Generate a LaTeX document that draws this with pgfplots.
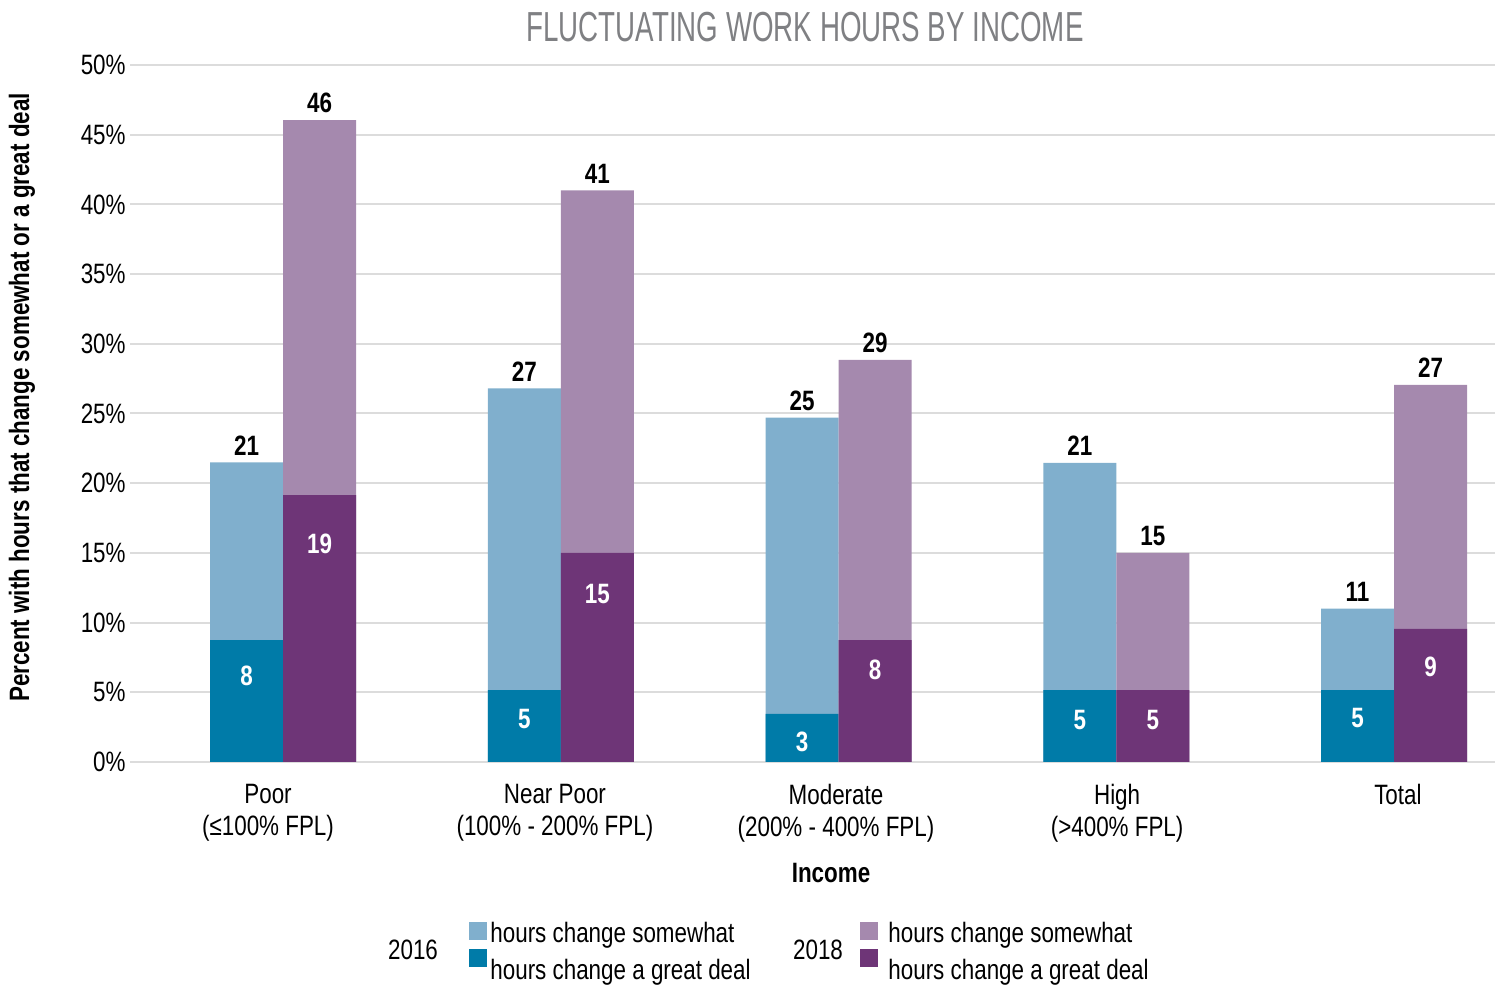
\documentclass[border=0pt]{standalone}
\usepackage{fontspec}
\setmainfont{Liberation Sans}[FakeStretch=0.8]
\newfontfamily\titlefont{Liberation Sans}[FakeStretch=0.66]
\usepackage{pgfplots}
\pgfplotsset{compat=1.18}
\definecolor{lblue}{HTML}{80AFCD}
\definecolor{dblue}{HTML}{007BA8}
\definecolor{lpurp}{HTML}{A589AE}
\definecolor{dpurp}{HTML}{6E3577}
\definecolor{gridgray}{HTML}{DCDCDC}
\definecolor{titlegray}{HTML}{7F8083}
\begin{document}
\begin{tikzpicture}
\useasboundingbox (0,0) rectangle (751pt,492pt);
\begin{axis}[
  at={(65pt,111pt)}, anchor=south west,
  scale only axis, width=682.5pt, height=348.5pt,
  xmin=-0.5509, xmax=4.3636, ymin=0, ymax=50,
  axis line style={draw=none},
  major tick length=0pt,
  ytick={0,5,...,50},
  yticklabel={\pgfmathprintnumber{\tick}\%},
  yticklabel style={font=\fontsize{14}{16}\selectfont, inner sep=0pt, xshift=-2pt},
  /pgf/number format/assume math mode=true,
  ymajorgrids, grid style={gridgray, line width=1pt},
  xtick={-0.054,0.979,1.991,3.003,4.014},
  xticklabels={{Poor\\(≤100\% FPL)},{Near Poor\\(100\% - 200\% FPL)},{Moderate\\(200\% - 400\% FPL)},{High\\(>400\% FPL)},{Total}},
  xticklabel style={align=center, anchor=north, inner sep=0pt, yshift=-11pt, font=\fontsize{14}{16}\selectfont},
  clip=false,
]
% 2016 total (somewhat + great deal)
\addplot[ybar, bar width=0.2628, bar shift=0pt, fill=lblue, draw=none,
  nodes near coords, point meta=explicit symbolic,
  every node near coord/.style={anchor=center, yshift=8.5pt, text=black, font=\bfseries\fontsize{14}{16}\selectfont}]
  coordinates {(-0.1314,21.5)[21] (0.8686,26.8)[27] (1.8686,24.7)[25] (2.8686,21.45)[21] (3.8686,11.0)[11]};
% 2016 great deal
\addplot[ybar, bar width=0.2628, bar shift=0pt, fill=dblue, draw=none]
  coordinates {(-0.1314,8.75) (0.8686,5.15) (1.8686,3.45) (2.8686,5.15) (3.8686,5.15)};
% 2018 total
\addplot[ybar, bar width=0.2628, bar shift=0pt, fill=lpurp, draw=none,
  nodes near coords, point meta=explicit symbolic,
  every node near coord/.style={anchor=center, yshift=8.5pt, text=black, font=\bfseries\fontsize{14}{16}\selectfont}]
  coordinates {(0.1314,46.05)[46] (1.1314,41.0)[41] (2.1314,28.85)[29] (3.1314,15.0)[15] (4.1314,27.05)[27]};
% 2018 great deal
\addplot[ybar, bar width=0.2628, bar shift=0pt, fill=dpurp, draw=none]
  coordinates {(0.1314,19.15) (1.1314,15.0) (2.1314,8.75) (3.1314,5.15) (4.1314,9.55)};
% white labels inside great-deal bars
\addplot[draw=none, mark=none, nodes near coords, point meta=explicit symbolic,
  every node near coord/.style={anchor=center, text=white, font=\bfseries\fontsize{14}{16}\selectfont}]
  coordinates {(-0.1314,6.17)[8] (0.8686,3.08)[5] (1.8686,1.43)[3] (2.8686,3.0)[5] (3.8686,3.16)[5]
               (0.1314,15.64)[19] (1.1314,12.05)[15] (2.1314,6.6)[8] (3.1314,3.0)[5] (4.1314,6.8)[9]};
\end{axis}
% title
\node[text=titlegray, font=\titlefont\fontsize{21}{24}\selectfont] at (402.5pt,478.5pt) {FLUCTUATING WORK HOURS BY INCOME};
% y label
\node[rotate=90, font=\bfseries\fontsize{14}{16}\selectfont] at (11pt,293.25pt) {Percent with hours that change somewhat or a great deal};
% x label
\node[font=\bfseries\fontsize{14}{16}\selectfont] at (415.5pt,55.5pt) {Income};
% legend
\node[font=\fontsize{14}{16}\selectfont] at (206.5pt,17pt) {2016};
\fill[lblue] (234.5pt,22pt) rectangle (243.5pt,31pt);
\fill[dblue] (234.5pt,8.5pt) rectangle (243.5pt,17.5pt);
\node[anchor=west, inner sep=0pt, font=\fontsize{14}{16}\selectfont] at (245pt,24.5pt) {hours change somewhat};
\node[anchor=west, inner sep=0pt, font=\fontsize{14}{16}\selectfont] at (245pt,6pt) {hours change a great deal};
\node[font=\fontsize{14}{16}\selectfont] at (409pt,17pt) {2018};
\fill[lpurp] (430pt,22pt) rectangle (439pt,31pt);
\fill[dpurp] (430pt,8.5pt) rectangle (439pt,17.5pt);
\node[anchor=west, inner sep=0pt, font=\fontsize{14}{16}\selectfont] at (444pt,24.5pt) {hours change somewhat};
\node[anchor=west, inner sep=0pt, font=\fontsize{14}{16}\selectfont] at (444pt,6pt) {hours change a great deal};
\end{tikzpicture}
\end{document}
